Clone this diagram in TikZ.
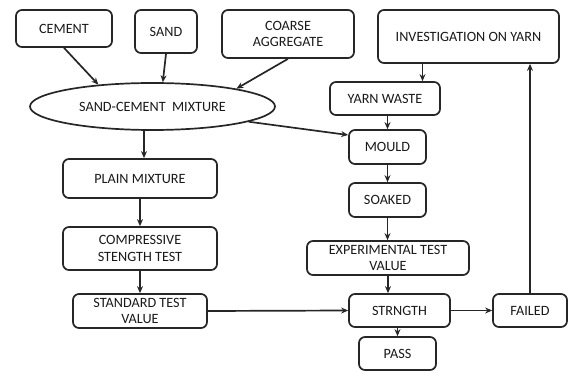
\documentclass[tikz,border=0pt]{standalone}
\usepackage{fontspec}
\setmainfont{Carlito}
\usetikzlibrary{shapes.geometric,arrows.meta}
\begin{document}
\begin{tikzpicture}[x=1pt,y=-1pt,
  box/.style={draw=black!85,line width=1.7pt,rounded corners=6pt,inner sep=1pt,align=center,
    font=\fontsize{14.2}{16.8}\selectfont,text=black!90},
  oval/.style={draw=black!85,line width=1.7pt,ellipse,inner sep=0pt,
    font=\fontsize{14.2}{16.8}\selectfont,text=black!90},
  arr/.style={draw=black!85,line width=1.7pt,-{Stealth[length=7pt,width=6pt]}}]
\useasboundingbox (0,0) rectangle (568,371);
\node[box,minimum width=96pt,minimum height=37pt] (cement) at (64,28.5) {CEMENT};
\node[box,minimum width=62pt,minimum height=43pt] (sand) at (166,31.5) {SAND};
\node[box,minimum width=132pt,minimum height=48pt] (coarse) at (288,34) {COARSE\\AGGREGATE};
\node[box,minimum width=181pt,minimum height=53pt] (invest) at (468.5,36.5) {INVESTIGATION ON YARN};
\node[oval,minimum width=245pt,minimum height=47pt] (mix) at (152.5,106.5) {SAND-CEMENT\ \ MIXTURE};
\node[box,minimum width=110pt,minimum height=33pt] (yarn) at (385,98.5) {YARN WASTE};
\node[box,minimum width=77pt,minimum height=34pt] (mould) at (387.5,147) {MOULD};
\node[box,minimum width=77pt,minimum height=34pt] (soaked) at (387.5,200) {SOAKED};
\node[box,minimum width=162pt,minimum height=34pt] (exp) at (388,258) {EXPERIMENTAL TEST\\VALUE};
\node[box,minimum width=101pt,minimum height=33pt] (strength) at (399.5,310.5) {STRNGTH};
\node[box,minimum width=77pt,minimum height=33pt] (pass) at (397.5,353.5) {PASS};
\node[box,minimum width=74pt,minimum height=33pt] (failed) at (530,310.5) {FAILED};
\node[box,minimum width=154pt,minimum height=39pt] (plain) at (140,178.5) {PLAIN MIXTURE};
\node[box,minimum width=154pt,minimum height=43pt] (comp) at (140,248.5) {COMPRESSIVE\\STENGTH TEST};
\node[box,minimum width=134pt,minimum height=34pt] (standard) at (140,311) {STANDARD TEST\\VALUE};
% connectors
\draw[arr] (cement.south) -- (mix.158);
\draw[arr] (sand.south) -- (mix.67);
\draw[arr] (coarse.south) -- (mix.12);
\draw[arr] (mix.-9) -- ([yshift=12pt]mould.west);
\draw[arr] ([xshift=4pt]plain.north |- mix.south) -- ([xshift=4pt]plain.north);
\draw[arr] (plain.south) -- (comp.north);
\draw[arr] (comp.south) -- (standard.north);
\draw[arr] (standard.east) -- (strength.west);
\draw[arr] ([xshift=-46pt]invest.south) -- ([xshift=-46pt]invest.south |- yarn.north);
\draw[arr] (mould.north |- yarn.south) -- (mould.north);
\draw[arr] (mould.south) -- (soaked.north);
\draw[arr] (soaked.south) -- (soaked.south |- exp.north);
\draw[arr] (exp.south) -- (exp.south |- strength.north);
\draw[arr] (pass.north |- strength.south) -- (pass.north);
\draw[arr] (strength.east) -- (failed.west);
\draw[arr] (failed.north) -- (failed.north |- invest.south);
\end{tikzpicture}
\end{document}
